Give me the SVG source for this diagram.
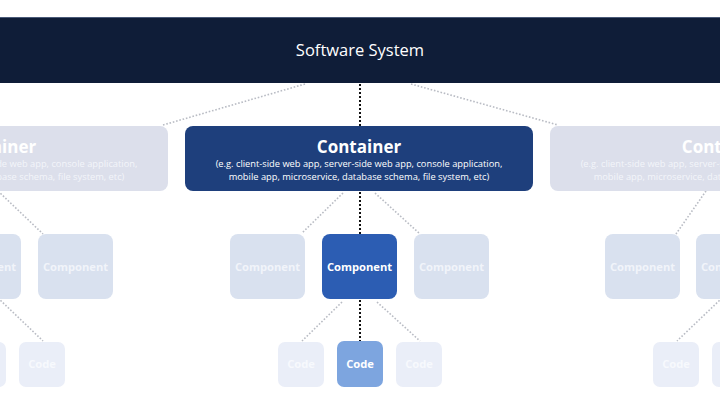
<svg xmlns="http://www.w3.org/2000/svg" width="720" height="404" viewBox="0 0 720 404">
<style>
text{font-family:"Open Sans","Noto Sans","DejaVu Sans",sans-serif;text-anchor:middle}
.sys{font-size:16.5px;fill:#ffffff}
.ct{font-size:17px;font-weight:bold;fill:#ffffff}
.sub{font-size:9.3px;fill:#ffffff}
.subf{font-size:9.3px;fill:#f3f5fa}
.cp{font-size:11.2px;font-weight:bold;fill:#ffffff}
.cf{font-size:11.2px;font-weight:bold;fill:#f1f4fa}
.cd{font-size:11.2px;font-weight:bold;fill:#ffffff}
.cdf{font-size:11.2px;font-weight:bold;fill:#f7f9fd}
.fcont{fill:#dcdfeb}
.fcomp{fill:#d9e1ef}
.fcode{fill:#eaeef8}
.dk{stroke:#111111;stroke-width:2;stroke-dasharray:2 2;fill:none}
.gr{stroke:#b9bcc4;stroke-width:1.6;stroke-dasharray:1.6 1.8;fill:none}
</style>
<rect width="720" height="404" fill="#ffffff"/>
<g id="connectors">
<line class="gr" x1="305" y1="84" x2="163" y2="125"/>
<line class="gr" x1="411" y1="84" x2="558" y2="125"/>
<line class="dk" x1="360" y1="84" x2="360" y2="126"/>
<line class="gr" x1="343" y1="193" x2="302" y2="233"/>
<line class="gr" x1="375" y1="193" x2="420" y2="234"/>
<line class="dk" x1="360" y1="192" x2="360" y2="234"/>
<line class="gr" x1="342" y1="302" x2="302" y2="341"/>
<line class="gr" x1="377" y1="302" x2="420" y2="341"/>
<line class="dk" x1="360" y1="300" x2="360" y2="341"/>
<line class="gr" x1="-2" y1="191" x2="43" y2="234"/>
<line class="gr" x1="-2" y1="298" x2="43" y2="341"/>
<line class="gr" x1="706" y1="191" x2="676" y2="234"/>
<line class="gr" x1="722" y1="298" x2="677" y2="341"/>
</g>
<g id="software-system">
<rect x="0" y="17" width="720" height="66" fill="#0f1d38"/>
<line x1="0" y1="17.5" x2="720" y2="17.5" stroke="#4a5a78" stroke-width="1"/>
<text class="sys" x="360" y="56">Software System</text>
</g>
<g id="container-left">
<rect class="fcont" x="-180" y="126" width="348" height="65" rx="8"/>
<text class="ct" x="-6" y="153">Container</text>
<text class="subf" x="-6" y="167">(e.g. client-side web app, server-side web app, console application,</text>
<text class="subf" x="-6" y="180">mobile app, microservice, database schema, file system, etc)</text>
</g>
<g id="container-main">
<rect x="185" y="126" width="348" height="65" rx="8" fill="#1e3f7c"/>
<text class="ct" x="359" y="153">Container</text>
<text class="sub" x="359" y="167">(e.g. client-side web app, server-side web app, console application,</text>
<text class="sub" x="359" y="180">mobile app, microservice, database schema, file system, etc)</text>
</g>
<g id="container-right">
<rect class="fcont" x="550" y="126" width="348" height="65" rx="8"/>
<text class="ct" x="724" y="153">Container</text>
<text class="subf" x="724" y="167">(e.g. client-side web app, server-side web app, console application,</text>
<text class="subf" x="724" y="180">mobile app, microservice, database schema, file system, etc)</text>
</g>
<g id="component-l1">
<rect class="fcomp" x="-54" y="234" width="75" height="65" rx="8"/>
<text class="cf" x="-16.5" y="271">Component</text>
</g>
<g id="component-l2">
<rect class="fcomp" x="38" y="234" width="75" height="65" rx="8"/>
<text class="cf" x="75.5" y="271">Component</text>
</g>
<g id="component-c1">
<rect class="fcomp" x="230" y="234" width="75" height="65" rx="8"/>
<text class="cf" x="267.5" y="271">Component</text>
</g>
<g id="component-main">
<rect x="322" y="234" width="75" height="65" rx="8" fill="#2c5db3"/>
<text class="cp" x="359.5" y="271">Component</text>
</g>
<g id="component-c3">
<rect class="fcomp" x="414" y="234" width="75" height="65" rx="8"/>
<text class="cf" x="451.5" y="271">Component</text>
</g>
<g id="component-r1">
<rect class="fcomp" x="605" y="234" width="75" height="65" rx="8"/>
<text class="cf" x="642.5" y="271">Component</text>
</g>
<g id="component-r2">
<rect class="fcomp" x="696" y="234" width="75" height="65" rx="8"/>
<text class="cf" x="733.5" y="271">Component</text>
</g>
<g id="code-l1">
<rect class="fcode" x="-40" y="342" width="46" height="45" rx="7"/>
<text class="cdf" x="-17" y="368">Code</text>
</g>
<g id="code-l2">
<rect class="fcode" x="19" y="342" width="46" height="45" rx="7"/>
<text class="cdf" x="42" y="368">Code</text>
</g>
<g id="code-c1">
<rect class="fcode" x="278" y="342" width="46" height="45" rx="7"/>
<text class="cdf" x="301" y="368">Code</text>
</g>
<g id="code-main">
<rect x="337" y="341" width="46" height="46" rx="7" fill="#7da5df"/>
<text class="cd" x="360" y="368">Code</text>
</g>
<g id="code-c3">
<rect class="fcode" x="396" y="342" width="46" height="45" rx="7"/>
<text class="cdf" x="419" y="368">Code</text>
</g>
<g id="code-r1">
<rect class="fcode" x="653" y="342" width="46" height="45" rx="7"/>
<text class="cdf" x="676" y="368">Code</text>
</g>
<g id="code-r2">
<rect class="fcode" x="712" y="342" width="46" height="45" rx="7"/>
<text class="cdf" x="735" y="368">Code</text>
</g>
</svg>
